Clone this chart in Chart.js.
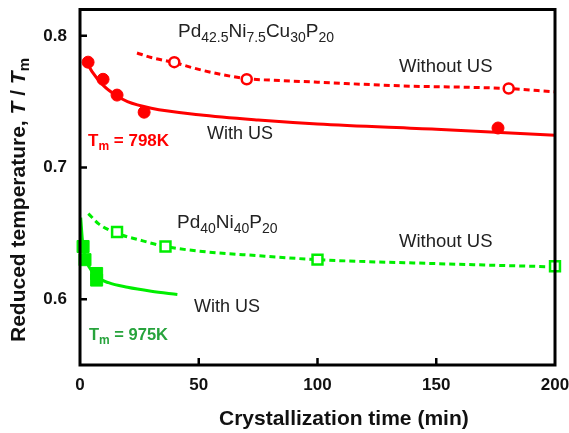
<!DOCTYPE html>
<html>
<head>
<meta charset="utf-8">
<script src="https://cdn.jsdelivr.net/npm/chart.js@4.4.1/dist/chart.umd.min.js"></script>
<style>
  html, body { margin: 0; padding: 0; background: #fff; }
  #wrap { width: 569px; height: 433px; }
</style>
</head>
<body>
<div id="wrap"><canvas id="chart"></canvas></div>
<script>
const xTicks = [0, 50, 100, 150, 200];
const yTicks = [0.6, 0.7, 0.8];

// Pd42.5Ni7.5Cu30P20 (red)
const cuWithX = [3.4, 9.7, 15.6, 27, 176];
const cuWithY = [0.780, 0.767, 0.755, 0.742, 0.730];
const cuWithoutX = [39.7, 70.2, 180.5];
const cuWithoutY = [0.780, 0.767, 0.760];
const cuWithFitX = [2, 5, 10, 15, 20, 30, 50, 75, 100, 150, 200];
const cuWithFitY = [0.783, 0.773, 0.762, 0.755, 0.750, 0.745, 0.740, 0.736, 0.733, 0.729, 0.7245];
const cuWithoutFitX = [24, 30, 40, 50, 60, 70, 85, 100, 135, 180, 200];
const cuWithoutFitY = [0.787, 0.7835, 0.7795, 0.7745, 0.7705, 0.7675, 0.766, 0.7648, 0.762, 0.760, 0.7575];

// Pd40Ni40P20 (green)
const niWithX = [1.3, 2.1, 7, 7];
const niWithY = [0.640, 0.630, 0.6195, 0.6145];
const niWithoutX = [15.6, 36, 100, 200];
const niWithoutY = [0.651, 0.640, 0.630, 0.625];
const niWithFitX = [0.3, 1, 2, 4, 7, 12, 20, 30, 41];
const niWithFitY = [0.662, 0.645, 0.633, 0.624, 0.617, 0.6125, 0.609, 0.606, 0.6035];
const niWithoutFitX = [3.5, 8, 15.6, 25, 36, 50, 75, 100, 150, 200];
const niWithoutFitY = [0.665, 0.657, 0.650, 0.645, 0.640, 0.6365, 0.633, 0.630, 0.627, 0.6245];

const RED = '#ff0000';
const GREEN = '#00ee00';
const DKGREEN = '#27a33c';
const FONT = '"Liberation Sans", Arial, sans-serif';

const zip = (xs, ys) => xs.map((x, i) => ({ x, y: ys[i] }));

function pts(xs, ys, color, style, radius, filled) {
    return {
        data: zip(xs, ys),
        showLine: false,
        pointStyle: style,
        pointRadius: radius,
        pointBackgroundColor: filled ? color : '#fff',
        pointBorderColor: color,
        pointBorderWidth: filled ? 1 : 2.5,
        clip: false
    };
}

function curve(xs, ys, color, dashed) {
    return {
        data: zip(xs, ys),
        showLine: true,
        borderColor: color,
        borderWidth: 3,
        borderDash: dashed ? [6, 4] : [],
        pointRadius: 0,
        tension: 0.4,
        cubicInterpolationMode: 'monotone',
        clip: false
    };
}

// draw a row of text pieces with differing fonts / offsets
function runs(ctx, parts, x, y, align) {
    let total = 0;
    parts.forEach(p => { ctx.font = p.font; total += ctx.measureText(p.t).width; });
    let cx = align === 'center' ? x - total / 2 : x;
    ctx.textAlign = 'left';
    ctx.textBaseline = 'alphabetic';
    parts.forEach(p => {
        ctx.font = p.font;
        ctx.fillStyle = p.c || '#222';
        ctx.fillText(p.t, cx, y + (p.dy || 0));
        cx += ctx.measureText(p.t).width;
    });
}

const deco = {
    id: 'deco',
    afterDraw(chart) {
        const ctx = chart.ctx;
        const a = chart.chartArea;
        const xs = chart.scales.x, ys = chart.scales.y;
        ctx.save();
        ctx.strokeStyle = '#000';
        ctx.lineWidth = 3;
        ctx.strokeRect(a.left, a.top, a.right - a.left, a.bottom - a.top);
        ctx.lineWidth = 2.5;
        ctx.beginPath();
        xTicks.slice(1, -1).forEach(v => {
            const px = xs.getPixelForValue(v);
            ctx.moveTo(px, a.bottom); ctx.lineTo(px, a.bottom - 7);
        });
        yTicks.forEach(v => {
            const py = ys.getPixelForValue(v);
            ctx.moveTo(a.left, py); ctx.lineTo(a.left + 7, py);
        });
        ctx.stroke();

        const reg = s => 'normal ' + s + 'px ' + FONT;
        const bold = s => 'bold ' + s + 'px ' + FONT;
        const sub = 5;
        runs(ctx, [
            { t: 'Pd', font: reg(19) }, { t: '42.5', font: reg(14), dy: sub },
            { t: 'Ni', font: reg(19) }, { t: '7.5', font: reg(14), dy: sub },
            { t: 'Cu', font: reg(19) }, { t: '30', font: reg(14), dy: sub },
            { t: 'P', font: reg(19) }, { t: '20', font: reg(14), dy: sub }
        ], 178, 37);
        runs(ctx, [{ t: 'Without US', font: reg(18.5) }], 399, 72);
        runs(ctx, [{ t: 'With US', font: reg(18) }], 207, 139);
        runs(ctx, [
            { t: 'T', font: bold(17), c: RED }, { t: 'm', font: bold(12), dy: 4, c: RED },
            { t: ' = 798K', font: bold(17), c: RED }
        ], 88, 146);

        runs(ctx, [
            { t: 'Pd', font: reg(19) }, { t: '40', font: reg(14), dy: sub },
            { t: 'Ni', font: reg(19) }, { t: '40', font: reg(14), dy: sub },
            { t: 'P', font: reg(19) }, { t: '20', font: reg(14), dy: sub }
        ], 177, 228);
        runs(ctx, [{ t: 'Without US', font: reg(18.5) }], 399, 247);
        runs(ctx, [{ t: 'With US', font: reg(18) }], 194, 312);
        runs(ctx, [
            { t: 'T', font: bold(16.5), c: DKGREEN }, { t: 'm', font: bold(12), dy: 4, c: DKGREEN },
            { t: ' = 975K', font: bold(16.5), c: DKGREEN }
        ], 89, 340);

        // axis titles
        runs(ctx, [{ t: 'Crystallization time (min)', font: bold(21), c: '#111' }], 219, 425);
        ctx.translate(25, 200);
        ctx.rotate(-Math.PI / 2);
        runs(ctx, [
            { t: 'Reduced temperature, ', font: bold(21), c: '#111' },
            { t: 'T', font: 'italic ' + bold(21), c: '#111' },
            { t: ' / ', font: bold(21), c: '#111' },
            { t: 'T', font: 'italic ' + bold(21), c: '#111' },
            { t: 'm', font: bold(15), dy: 4, c: '#111' }
        ], 0, 0, 'center');
        ctx.restore();
    }
};

new Chart(document.getElementById('chart'), {
    type: 'scatter',
    data: {
        datasets: [
            pts(cuWithX, cuWithY, RED, 'circle', 6, true),
            pts(cuWithoutX, cuWithoutY, RED, 'circle', 5, false),
            pts(niWithX, niWithY, GREEN, 'rect', 8.5, true),
            pts(niWithoutX, niWithoutY, GREEN, 'rect', 7, false),
            curve(cuWithFitX, cuWithFitY, RED, false),
            curve(cuWithoutFitX, cuWithoutFitY, RED, true),
            curve(niWithFitX, niWithFitY, GREEN, false),
            curve(niWithoutFitX, niWithoutFitY, GREEN, true)
        ]
    },
    options: {
        responsive: true,
        maintainAspectRatio: false,
        animation: false,
        layout: { padding: { top: 8, right: 14, bottom: 0, left: 0 } },
        plugins: { legend: { display: false }, tooltip: { enabled: false } },
        scales: {
            x: {
                min: 0, max: 200,
                afterBuildTicks: s => { s.ticks = xTicks.map(v => ({ value: v })); },
                afterFit: s => { s.height = 68; s.paddingLeft = 0; s.paddingRight = 0; },
                grid: { display: false, drawTicks: false },
                border: { display: false },
                ticks: { color: '#111', font: { family: FONT, size: 17, weight: 'bold' }, padding: 10, maxRotation: 0 }
            },
            y: {
                min: 0.55, max: 0.82,
                afterBuildTicks: s => { s.ticks = yTicks.map(v => ({ value: v })); },
                afterFit: s => { s.width = 80; s.paddingTop = 0; s.paddingBottom = 0; },
                grid: { display: false, drawTicks: false },
                border: { display: false },
                ticks: { color: '#111', font: { family: FONT, size: 17, weight: 'bold' }, padding: 13, callback: v => v.toFixed(1) }
            }
        }
    },
    plugins: [deco]
});
</script>
</body>
</html>
